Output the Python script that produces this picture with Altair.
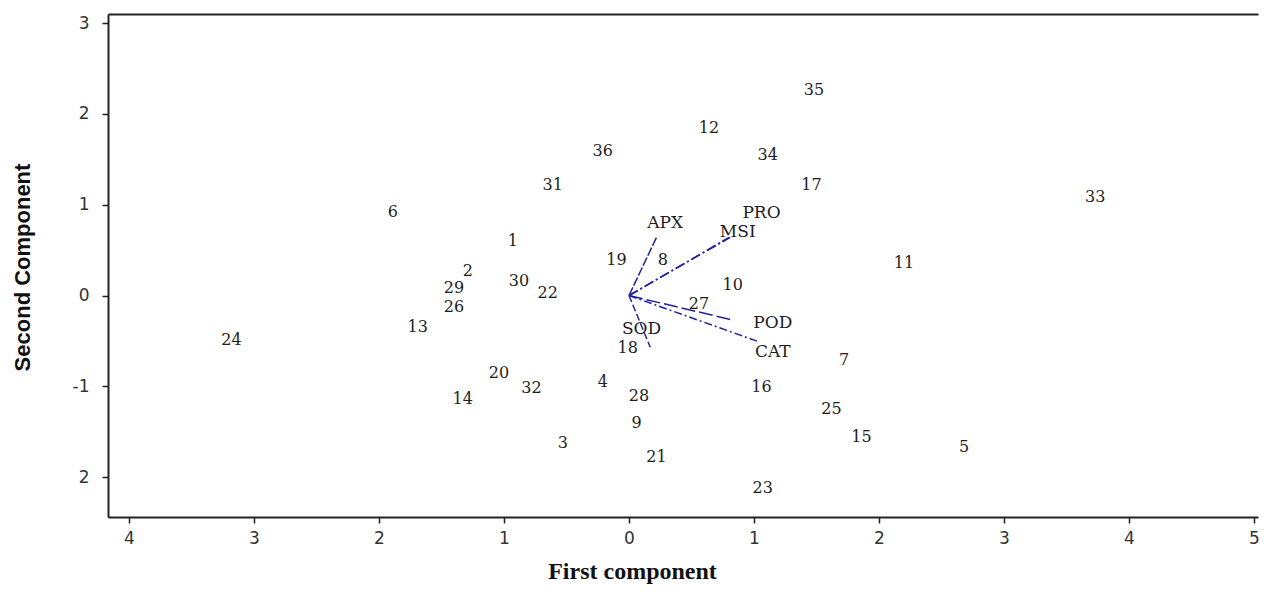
import altair as alt
import pandas as pd

# Observation (genotype) scores
obs_id = [str(i) for i in range(1, 37)]
obs_x = [-0.93, -1.29, -0.53, -0.21, 2.68, -1.89, 1.72, 0.27, 0.06, 0.83,
         2.20, 0.64, -1.69, -1.33, 1.86, 1.06, 1.46, -0.01, -0.10, -1.04,
         0.22, -0.65, 1.07, -3.18, 1.62, -1.40, 0.56, 0.08, -1.40, -0.88,
         -0.61, -0.78, 3.73, 1.11, 1.48, -0.21]
obs_y = [0.60, 0.27, -1.62, -0.95, -1.67, 0.92, -0.71, 0.39, -1.40, 0.12,
         0.36, 1.84, -0.35, -1.14, -1.56, -1.01, 1.22, -0.58, 0.39, -0.85,
         -1.78, 0.03, -2.12, -0.49, -1.25, -0.13, -0.09, -1.11, 0.08, 0.16,
         1.22, -1.02, 1.08, 1.55, 2.26, 1.59]

# Variable loadings (vectors) and their label positions
var_names = ["APX", "PRO", "MSI", "POD", "CAT", "SOD"]
var_x = [0.22, 0.80, 0.81, 0.83, 1.04, 0.17]
var_y = [0.64, 0.64, 0.64, -0.27, -0.51, -0.57]
var_lx = [0.29, 1.06, 0.87, 1.15, 1.15, 0.10]
var_ly = [0.80, 0.91, 0.70, -0.30, -0.62, -0.37]
var_dash = [[9, 2], [10, 3, 2, 3], [10, 3, 2, 3], [14, 4], [8, 3, 2, 3], [7, 3]]

x_ticks = [-4, -3, -2, -1, 0, 1, 2, 3, 4, 5]
y_ticks = [-2, -1, 0, 1, 2, 3]

obs = pd.DataFrame({"id": obs_id, "x": obs_x, "y": obs_y})
var = pd.DataFrame({"v": var_names, "x0": [0.0] * 6, "y0": [0.0] * 6,
                    "x": var_x, "y": var_y, "lx": var_lx, "ly": var_ly})

xs = alt.Scale(domain=[-4.168, 5.032], nice=False, zero=False)
ys = alt.Scale(domain=[-2.439, 3.100], nice=False, zero=False)

x_axis = alt.Axis(values=x_ticks, labelExpr="abs(datum.value)", title="First component",
                  titleFont="Liberation Serif", titleFontSize=24, titleFontWeight="bold",
                  titleColor="#111", titleX=524, titleY=61, titleBaseline="alphabetic",
                  labelFont="DejaVu Sans", labelFontSize=17, labelColor="#333",
                  labelPadding=7, tickSize=6, tickColor="#222", tickWidth=1.5,
                  domainColor="#222", domainWidth=2, grid=False)
y_axis = alt.Axis(values=y_ticks,
                  labelExpr="datum.value == -1 ? '-1' : abs(datum.value)",
                  title="Second Component", titleFont="Liberation Sans",
                  titleFontSize=22, titleFontWeight="bold", titleColor="#111",
                  titleX=-79, titleY=253, titleAngle=270, titleAlign="center",
                  titleBaseline="alphabetic",
                  labelFont="DejaVu Sans", labelFontSize=17, labelColor="#333",
                  labelPadding=13, tickSize=6, tickColor="#222", tickWidth=1.5,
                  domainColor="#222", domainWidth=2, grid=False)
top_axis = alt.Axis(orient="top", labels=False, ticks=False, title=None,
                    domainColor="#222", domainWidth=2, grid=False)

points = alt.Chart(obs).mark_text(font="DejaVu Serif", fontSize=16, color="#1e1e1e",
                                  align="center", baseline="middle").encode(
    x=alt.X("x:Q", scale=xs, axis=x_axis),
    y=alt.Y("y:Q", scale=ys, axis=y_axis),
    text="id:N",
)

vectors = alt.Chart(var).mark_rule(color="#2222a0", strokeWidth=1.5).encode(
    x=alt.X("x0:Q", scale=xs, axis=top_axis),
    y=alt.Y("y0:Q", scale=ys),
    x2="x:Q",
    y2="y:Q",
    strokeDash=alt.StrokeDash("v:N", scale=alt.Scale(domain=var_names, range=var_dash),
                              legend=None),
)

var_labels = alt.Chart(var).mark_text(font="DejaVu Serif", fontSize=17, color="#1e1e1e",
                                      align="center", baseline="middle").encode(
    x=alt.X("lx:Q", scale=xs, axis=None),
    y=alt.Y("ly:Q", scale=ys),
    text="v:N",
)

chart = alt.layer(points, vectors, var_labels).resolve_axis(x="independent").properties(
    width=1150, height=503,
    autosize="none",
    padding={"left": 100, "top": 6, "right": 2, "bottom": 70},
    background="white",
).configure_view(stroke=None)

chart.save("out.html", embed_options={"renderer": "svg", "actions": False})
